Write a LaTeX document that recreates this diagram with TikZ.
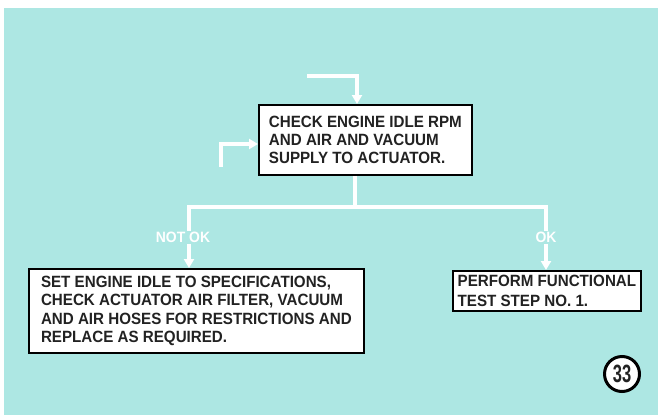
\documentclass[tikz,border=0pt]{standalone}
\usepackage{fontspec}
\setmainfont[FakeStretch=0.93]{Liberation Sans}
\newfontfamily\numfont[FakeStretch=0.66]{Liberation Sans}
\usetikzlibrary{arrows.meta,calc}
\definecolor{bgc}{HTML}{ADE7E3}
\definecolor{txt}{HTML}{222222}
\begin{document}
\begin{tikzpicture}[x=1pt,y=-1pt,
  stepbox/.style={draw=black,line width=1.8pt,fill=white,anchor=north west,align=left,
    text=txt,inner xsep=0pt,inner ysep=0pt,font=\fontsize{16.3}{18.4}\selectfont\bfseries},
  wline/.style={draw=white,line width=3.5pt},
  warrow/.style={wline,-{Triangle[width=10pt,length=9pt]}},
  lbl/.style={text=white,font=\fontsize{15}{15}\selectfont\bfseries,inner sep=1pt}]
\fill[white] (0,0) rectangle (658,415);
\fill[bgc] (4,8) rectangle (658,415);
\useasboundingbox (0,0) rectangle (658,415);
% boxes
\node[stepbox,minimum width=213pt,minimum height=70pt] (main) at (258,104)
  {CHECK ENGINE IDLE RPM\\AND AIR AND VACUUM\\SUPPLY TO ACTUATOR.};
\node[stepbox,minimum width=335pt,minimum height=84pt] (left) at (28,268)
  {SET ENGINE IDLE TO SPECIFICATIONS,\\CHECK ACTUATOR AIR FILTER, VACUUM\\AND AIR HOSES FOR RESTRICTIONS AND\\REPLACE AS REQUIRED.};
\node[stepbox,minimum width=188pt,minimum height=40pt,
  font=\fontsize{16.3}{19.5}\selectfont\bfseries] (right) at (452,270)
  {PERFORM FUNCTIONAL\\TEST STEP NO. 1.};
% incoming arrows
\coordinate (t0) at (307,76);
\coordinate (l0) at (221,167);
\draw[warrow] (t0) -| ([xshift=99pt]main.north west);
\draw[warrow] (l0) |- ([yshift=-40pt]main.north west);
% branch
\coordinate (j) at (355,207);
\coordinate (jl) at (189,207);
\coordinate (jr) at (546,207);
\node[lbl] (nok) at (183,237.5) {NOT OK};
\node[lbl] (ok) at (546,237.5) {OK};
\draw[wline] ([xshift=97pt]main.south west) -- (j);
\draw[wline,line cap=rect] (jl) -- (jr);
\draw[wline] (jl) -- (jl |- nok.north);
\draw[wline] (jr) -- (ok.north);
\draw[warrow] (jl |- nok.south) -- (jl |- left.north);
\draw[warrow] (ok.south) -- (ok.south |- right.north);
% page number
\node[circle,draw=black,line width=3pt,fill=white,minimum size=35pt,inner sep=0pt,
  font=\numfont\fontsize{25}{25}\selectfont\bfseries,text=txt] (num) at (622,374) {33};
\end{tikzpicture}
\end{document}
